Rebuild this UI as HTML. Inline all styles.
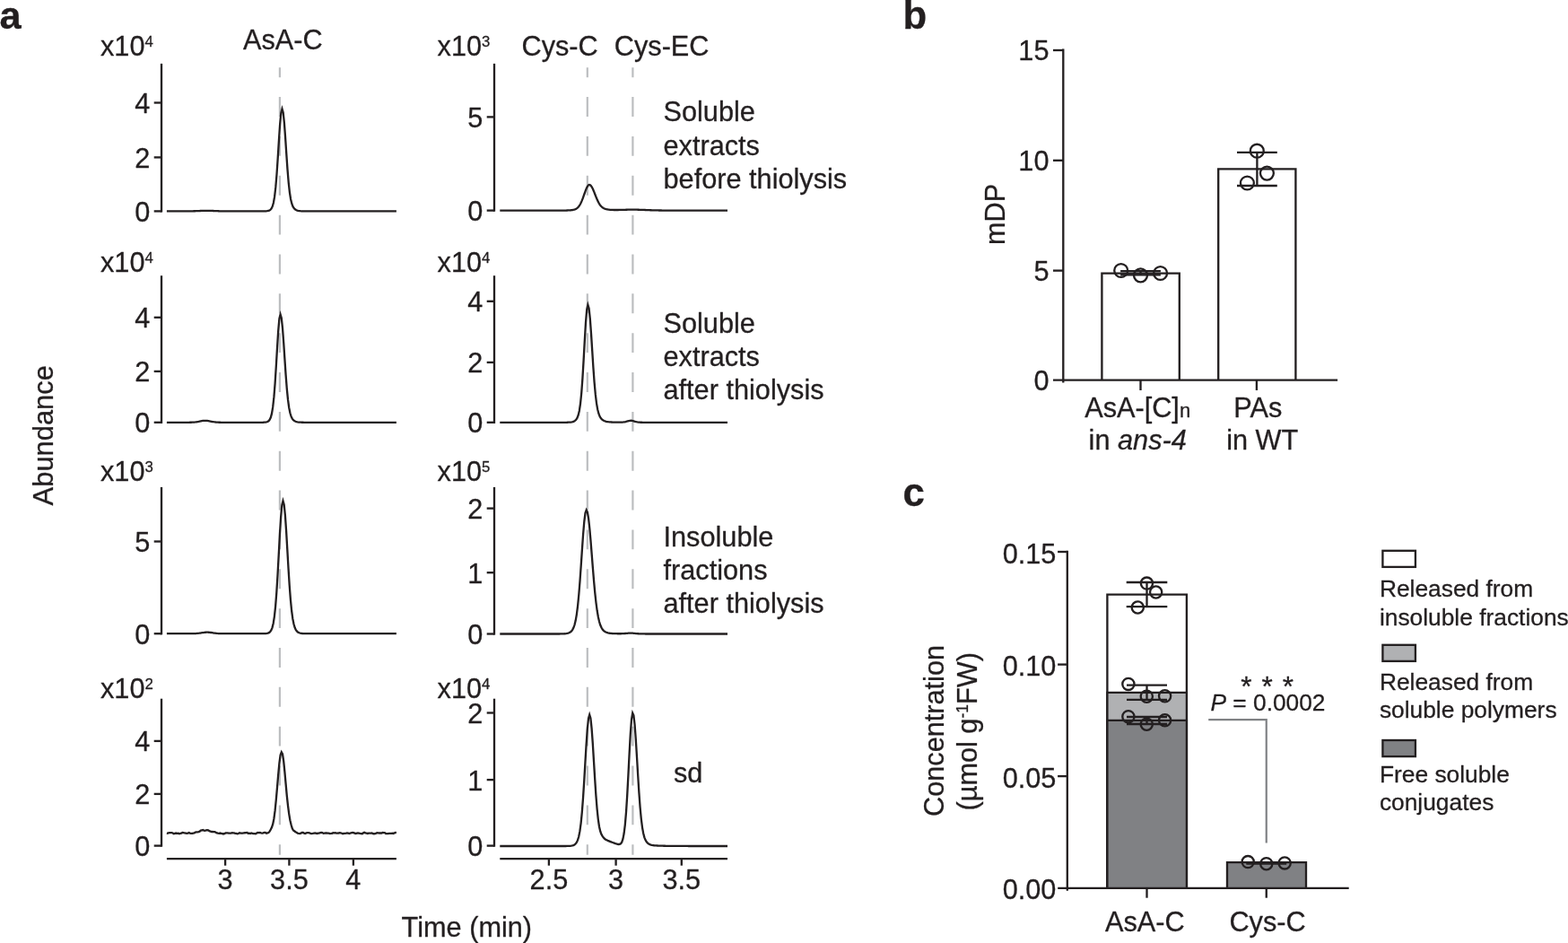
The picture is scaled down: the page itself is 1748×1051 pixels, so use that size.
<!DOCTYPE html>
<html lang="en">
<head>
<meta charset="utf-8">
<title>Figure</title>
<style>
html,body{margin:0;padding:0;background:#fff;}
body{width:1748px;height:1051px;overflow:hidden;}
svg{display:block;}
svg text{font-family:"Liberation Sans",sans-serif;fill:#231f20;stroke:#231f20;stroke-width:0.3px;stroke-linejoin:round;}
</style>
</head>
<body>
<svg width="1748" height="1051" viewBox="0 0 1748 1051" role="img" aria-label="Figure with panels a, b and c">
<rect width="1748" height="1051" fill="#fff"/>
<text x="-0.60" y="32.00" font-size="43.4" font-weight="bold">a</text>
<line x1="311.9" y1="75.3" x2="311.9" y2="952.7" stroke="#bcbec0" stroke-width="2.2" stroke-dasharray="21.9 21.95" stroke-dashoffset="11.05"/>
<line x1="654.8" y1="75.3" x2="654.8" y2="952.7" stroke="#bcbec0" stroke-width="2.2" stroke-dasharray="21.9 21.95" stroke-dashoffset="11.05"/>
<line x1="705.4" y1="75.3" x2="705.4" y2="952.7" stroke="#bcbec0" stroke-width="2.2" stroke-dasharray="21.9 21.95" stroke-dashoffset="11.05"/>
<line x1="180.00" y1="70.90" x2="180.00" y2="236.56" stroke="#231f20" stroke-width="2.33"/>
<line x1="171.70" y1="114.50" x2="180.00" y2="114.50" stroke="#231f20" stroke-width="2.33"/>
<text x="167.40" y="126.00" font-size="30.7" text-anchor="end">4</text>
<line x1="171.70" y1="175.40" x2="180.00" y2="175.40" stroke="#231f20" stroke-width="2.33"/>
<text x="167.40" y="186.90" font-size="30.7" text-anchor="end">2</text>
<line x1="171.70" y1="235.40" x2="180.00" y2="235.40" stroke="#231f20" stroke-width="2.33"/>
<text x="167.40" y="246.90" font-size="30.7" text-anchor="end">0</text>
<text x="112.00" y="62.00" font-size="30.7">x10<tspan font-size="16.8" dy="-10.4">4</tspan></text>
<line x1="180.00" y1="307.20" x2="180.00" y2="471.97" stroke="#231f20" stroke-width="2.33"/>
<line x1="171.70" y1="353.80" x2="180.00" y2="353.80" stroke="#231f20" stroke-width="2.33"/>
<text x="167.40" y="365.30" font-size="30.7" text-anchor="end">4</text>
<line x1="171.70" y1="413.90" x2="180.00" y2="413.90" stroke="#231f20" stroke-width="2.33"/>
<text x="167.40" y="425.40" font-size="30.7" text-anchor="end">2</text>
<line x1="171.70" y1="470.80" x2="180.00" y2="470.80" stroke="#231f20" stroke-width="2.33"/>
<text x="167.40" y="482.30" font-size="30.7" text-anchor="end">0</text>
<text x="112.00" y="303.00" font-size="30.7">x10<tspan font-size="16.8" dy="-10.4">4</tspan></text>
<line x1="180.00" y1="542.90" x2="180.00" y2="707.37" stroke="#231f20" stroke-width="2.33"/>
<line x1="171.70" y1="603.50" x2="180.00" y2="603.50" stroke="#231f20" stroke-width="2.33"/>
<text x="167.40" y="615.00" font-size="30.7" text-anchor="end">5</text>
<line x1="171.70" y1="706.20" x2="180.00" y2="706.20" stroke="#231f20" stroke-width="2.33"/>
<text x="167.40" y="717.70" font-size="30.7" text-anchor="end">0</text>
<text x="112.00" y="536.00" font-size="30.7">x10<tspan font-size="16.8" dy="-10.4">3</tspan></text>
<line x1="180.00" y1="778.70" x2="180.00" y2="943.76" stroke="#231f20" stroke-width="2.33"/>
<line x1="171.70" y1="825.90" x2="180.00" y2="825.90" stroke="#231f20" stroke-width="2.33"/>
<text x="167.40" y="837.40" font-size="30.7" text-anchor="end">4</text>
<line x1="171.70" y1="884.90" x2="180.00" y2="884.90" stroke="#231f20" stroke-width="2.33"/>
<text x="167.40" y="896.40" font-size="30.7" text-anchor="end">2</text>
<line x1="171.70" y1="942.60" x2="180.00" y2="942.60" stroke="#231f20" stroke-width="2.33"/>
<text x="167.40" y="954.10" font-size="30.7" text-anchor="end">0</text>
<text x="112.00" y="778.00" font-size="30.7">x10<tspan font-size="16.8" dy="-10.4">2</tspan></text>
<line x1="551.00" y1="70.90" x2="551.00" y2="235.76" stroke="#231f20" stroke-width="2.33"/>
<line x1="542.70" y1="130.40" x2="551.00" y2="130.40" stroke="#231f20" stroke-width="2.33"/>
<text x="538.40" y="141.90" font-size="30.7" text-anchor="end">5</text>
<line x1="542.70" y1="234.60" x2="551.00" y2="234.60" stroke="#231f20" stroke-width="2.33"/>
<text x="538.40" y="246.10" font-size="30.7" text-anchor="end">0</text>
<text x="487.60" y="62.00" font-size="30.7">x10<tspan font-size="16.8" dy="-10.4">3</tspan></text>
<line x1="551.00" y1="307.20" x2="551.00" y2="471.97" stroke="#231f20" stroke-width="2.33"/>
<line x1="542.70" y1="335.80" x2="551.00" y2="335.80" stroke="#231f20" stroke-width="2.33"/>
<text x="538.40" y="347.30" font-size="30.7" text-anchor="end">4</text>
<line x1="542.70" y1="403.90" x2="551.00" y2="403.90" stroke="#231f20" stroke-width="2.33"/>
<text x="538.40" y="415.40" font-size="30.7" text-anchor="end">2</text>
<line x1="542.70" y1="470.80" x2="551.00" y2="470.80" stroke="#231f20" stroke-width="2.33"/>
<text x="538.40" y="482.30" font-size="30.7" text-anchor="end">0</text>
<text x="487.60" y="303.00" font-size="30.7">x10<tspan font-size="16.8" dy="-10.4">4</tspan></text>
<line x1="551.00" y1="542.90" x2="551.00" y2="707.66" stroke="#231f20" stroke-width="2.33"/>
<line x1="542.70" y1="566.60" x2="551.00" y2="566.60" stroke="#231f20" stroke-width="2.33"/>
<text x="538.40" y="578.10" font-size="30.7" text-anchor="end">2</text>
<line x1="542.70" y1="638.20" x2="551.00" y2="638.20" stroke="#231f20" stroke-width="2.33"/>
<text x="538.40" y="649.70" font-size="30.7" text-anchor="end">1</text>
<line x1="542.70" y1="706.50" x2="551.00" y2="706.50" stroke="#231f20" stroke-width="2.33"/>
<text x="538.40" y="718.00" font-size="30.7" text-anchor="end">0</text>
<text x="487.60" y="536.00" font-size="30.7">x10<tspan font-size="16.8" dy="-10.4">5</tspan></text>
<line x1="551.00" y1="778.70" x2="551.00" y2="943.76" stroke="#231f20" stroke-width="2.33"/>
<line x1="542.70" y1="794.50" x2="551.00" y2="794.50" stroke="#231f20" stroke-width="2.33"/>
<text x="538.40" y="806.00" font-size="30.7" text-anchor="end">2</text>
<line x1="542.70" y1="869.10" x2="551.00" y2="869.10" stroke="#231f20" stroke-width="2.33"/>
<text x="538.40" y="880.60" font-size="30.7" text-anchor="end">1</text>
<line x1="542.70" y1="942.60" x2="551.00" y2="942.60" stroke="#231f20" stroke-width="2.33"/>
<text x="538.40" y="954.10" font-size="30.7" text-anchor="end">0</text>
<text x="487.60" y="778.00" font-size="30.7">x10<tspan font-size="16.8" dy="-10.4">4</tspan></text>
<line x1="185.90" y1="957.10" x2="441.90" y2="957.10" stroke="#231f20" stroke-width="2.33"/>
<line x1="251.10" y1="957.10" x2="251.10" y2="964.70" stroke="#231f20" stroke-width="2.33"/>
<text x="251.10" y="991.00" font-size="30.7" text-anchor="middle">3</text>
<line x1="322.40" y1="957.10" x2="322.40" y2="964.70" stroke="#231f20" stroke-width="2.33"/>
<text x="322.40" y="991.00" font-size="30.7" text-anchor="middle">3.5</text>
<line x1="393.90" y1="957.10" x2="393.90" y2="964.70" stroke="#231f20" stroke-width="2.33"/>
<text x="393.90" y="991.00" font-size="30.7" text-anchor="middle">4</text>
<line x1="557.30" y1="957.10" x2="811.00" y2="957.10" stroke="#231f20" stroke-width="2.33"/>
<line x1="611.90" y1="957.10" x2="611.90" y2="964.70" stroke="#231f20" stroke-width="2.33"/>
<text x="611.90" y="991.00" font-size="30.7" text-anchor="middle">2.5</text>
<line x1="686.60" y1="957.10" x2="686.60" y2="964.70" stroke="#231f20" stroke-width="2.33"/>
<text x="686.60" y="991.00" font-size="30.7" text-anchor="middle">3</text>
<line x1="759.80" y1="957.10" x2="759.80" y2="964.70" stroke="#231f20" stroke-width="2.33"/>
<text x="759.80" y="991.00" font-size="30.7" text-anchor="middle">3.5</text>
<text x="447.60" y="1044.00" font-size="30.7">Time (min)</text>
<text transform="translate(58.6,563.4) rotate(-90)" font-size="30.9">Abundance</text>
<text x="271.00" y="55.00" font-size="30.7">AsA-C</text>
<text x="581.50" y="62.00" font-size="30.7">Cys-C</text>
<text x="684.80" y="62.00" font-size="30.7">Cys-EC</text>
<text x="739.50" y="135.00" font-size="30.7">Soluble</text>
<text x="739.50" y="173.00" font-size="30.7">extracts</text>
<text x="739.50" y="210.00" font-size="30.7">before thiolysis</text>
<text x="739.50" y="371.00" font-size="30.7">Soluble</text>
<text x="739.50" y="408.00" font-size="30.7">extracts</text>
<text x="739.50" y="445.00" font-size="30.7">after thiolysis</text>
<text x="739.50" y="609.00" font-size="30.7">Insoluble</text>
<text x="739.50" y="646.00" font-size="30.7">fractions</text>
<text x="739.50" y="683.00" font-size="30.7">after thiolysis</text>
<text x="751.00" y="872.00" font-size="30.7">sd</text>
<path d="M185.90,235.40 L186.10,235.40 L187.30,235.40 L188.50,235.40 L189.70,235.40 L190.90,235.40 L192.10,235.40 L193.30,235.40 L194.50,235.40 L195.70,235.40 L196.90,235.40 L198.10,235.40 L199.30,235.40 L200.50,235.40 L201.70,235.40 L202.90,235.40 L204.10,235.40 L205.30,235.39 L206.50,235.39 L207.70,235.39 L208.90,235.38 L210.10,235.37 L211.30,235.36 L212.50,235.35 L213.70,235.32 L214.90,235.30 L216.10,235.27 L217.30,235.23 L218.50,235.19 L219.70,235.14 L220.90,235.09 L222.10,235.03 L223.30,234.98 L224.50,234.93 L225.70,234.88 L226.90,234.84 L228.10,234.82 L229.30,234.80 L230.50,234.80 L231.70,234.81 L232.90,234.84 L234.10,234.87 L235.30,234.92 L236.50,234.97 L237.70,235.02 L238.90,235.08 L240.10,235.13 L241.30,235.18 L242.50,235.22 L243.70,235.26 L244.90,235.29 L246.10,235.32 L247.30,235.34 L248.50,235.36 L249.70,235.37 L250.90,235.38 L252.10,235.39 L253.30,235.39 L254.50,235.39 L255.70,235.40 L256.90,235.40 L258.10,235.40 L259.30,235.40 L260.50,235.40 L261.70,235.40 L262.90,235.40 L264.10,235.40 L265.30,235.40 L266.50,235.40 L267.70,235.40 L268.90,235.40 L270.10,235.40 L271.30,235.40 L272.50,235.40 L273.70,235.40 L274.90,235.40 L276.10,235.40 L277.30,235.40 L278.50,235.40 L279.70,235.40 L280.90,235.40 L282.10,235.40 L283.30,235.40 L284.50,235.40 L285.70,235.40 L286.90,235.40 L288.10,235.40 L289.30,235.40 L290.50,235.40 L291.70,235.40 L292.90,235.39 L294.10,235.38 L295.30,235.35 L296.50,235.30 L297.70,235.20 L298.90,235.00 L300.10,234.62 L301.30,233.92 L302.50,232.60 L303.70,230.20 L304.90,226.02 L306.10,219.15 L307.30,208.72 L308.50,194.27 L309.70,176.34 L310.90,156.79 L312.10,138.78 L313.30,125.96 L314.50,121.30 L315.70,125.44 L316.90,136.94 L318.10,153.35 L319.30,171.58 L320.50,188.85 L321.70,203.32 L322.90,214.29 L324.10,221.97 L325.30,227.00 L326.50,230.16 L327.70,232.10 L328.90,233.31 L330.10,234.07 L331.30,234.56 L332.50,234.87 L333.70,235.08 L334.90,235.21 L336.10,235.29 L337.30,235.34 L338.50,235.37 L339.70,235.38 L340.90,235.39 L342.10,235.40 L343.30,235.40 L344.50,235.40 L345.70,235.40 L346.90,235.40 L348.10,235.40 L349.30,235.40 L350.50,235.40 L351.70,235.40 L352.90,235.40 L354.10,235.40 L355.30,235.40 L356.50,235.40 L357.70,235.40 L358.90,235.40 L360.10,235.40 L361.30,235.40 L362.50,235.40 L363.70,235.40 L364.90,235.40 L366.10,235.40 L367.30,235.40 L368.50,235.40 L369.70,235.40 L370.90,235.40 L372.10,235.40 L373.30,235.40 L374.50,235.40 L375.70,235.40 L376.90,235.40 L378.10,235.40 L379.30,235.40 L380.50,235.40 L381.70,235.40 L382.90,235.40 L384.10,235.40 L385.30,235.40 L386.50,235.40 L387.70,235.40 L388.90,235.40 L390.10,235.40 L391.30,235.40 L392.50,235.40 L393.70,235.40 L394.90,235.40 L396.10,235.40 L397.30,235.40 L398.50,235.40 L399.70,235.40 L400.90,235.40 L402.10,235.40 L403.30,235.40 L404.50,235.40 L405.70,235.40 L406.90,235.40 L408.10,235.40 L409.30,235.40 L410.50,235.40 L411.70,235.40 L412.90,235.40 L414.10,235.40 L415.30,235.40 L416.50,235.40 L417.70,235.40 L418.90,235.40 L420.10,235.40 L421.30,235.40 L422.50,235.40 L423.70,235.40 L424.90,235.40 L426.10,235.40 L427.30,235.40 L428.50,235.40 L429.70,235.40 L430.90,235.40 L432.10,235.40 L433.30,235.40 L434.50,235.40 L435.70,235.40 L436.90,235.40 L438.10,235.40 L439.30,235.40 L440.50,235.40 L441.70,235.40 L441.90,235.40" fill="none" stroke="#231f20" stroke-width="2.3" stroke-linejoin="miter" stroke-miterlimit="10" stroke-linecap="butt"/>
<path d="M185.90,470.80 L186.60,470.80 L187.80,470.80 L189.00,470.80 L190.20,470.80 L191.40,470.80 L192.60,470.80 L193.80,470.80 L195.00,470.80 L196.20,470.80 L197.40,470.80 L198.60,470.80 L199.80,470.80 L201.00,470.80 L202.20,470.80 L203.40,470.80 L204.60,470.80 L205.80,470.80 L207.00,470.80 L208.20,470.79 L209.40,470.79 L210.60,470.78 L211.80,470.76 L213.00,470.74 L214.20,470.70 L215.40,470.63 L216.60,470.55 L217.80,470.43 L219.00,470.27 L220.20,470.08 L221.40,469.87 L222.60,469.63 L223.80,469.39 L225.00,469.16 L226.20,468.98 L227.40,468.85 L228.60,468.80 L229.80,468.83 L231.00,468.93 L232.20,469.10 L233.40,469.31 L234.60,469.55 L235.80,469.79 L237.00,470.01 L238.20,470.21 L239.40,470.38 L240.60,470.51 L241.80,470.61 L243.00,470.68 L244.20,470.73 L245.40,470.76 L246.60,470.78 L247.80,470.79 L249.00,470.79 L250.20,470.80 L251.40,470.80 L252.60,470.80 L253.80,470.80 L255.00,470.80 L256.20,470.80 L257.40,470.80 L258.60,470.80 L259.80,470.80 L261.00,470.80 L262.20,470.80 L263.40,470.80 L264.60,470.80 L265.80,470.80 L267.00,470.80 L268.20,470.80 L269.40,470.80 L270.60,470.80 L271.80,470.80 L273.00,470.80 L274.20,470.80 L275.40,470.80 L276.60,470.80 L277.80,470.80 L279.00,470.80 L280.20,470.80 L281.40,470.80 L282.60,470.80 L283.80,470.80 L285.00,470.80 L286.20,470.80 L287.40,470.80 L288.60,470.80 L289.80,470.80 L291.00,470.79 L292.20,470.78 L293.40,470.75 L294.60,470.69 L295.80,470.58 L297.00,470.38 L298.20,469.98 L299.40,469.24 L300.60,467.85 L301.80,465.31 L303.00,460.90 L304.20,453.65 L305.40,442.64 L306.60,427.40 L307.80,408.48 L309.00,387.85 L310.20,368.84 L311.40,355.31 L312.60,350.40 L313.80,354.40 L315.00,365.58 L316.20,381.75 L317.40,400.08 L318.60,417.90 L319.80,433.33 L321.00,445.47 L322.20,454.28 L323.40,460.27 L324.60,464.16 L325.80,466.61 L327.00,468.14 L328.20,469.10 L329.40,469.72 L330.60,470.11 L331.80,470.37 L333.00,470.54 L334.20,470.64 L335.40,470.71 L336.60,470.75 L337.80,470.77 L339.00,470.79 L340.20,470.79 L341.40,470.80 L342.60,470.80 L343.80,470.80 L345.00,470.80 L346.20,470.80 L347.40,470.80 L348.60,470.80 L349.80,470.80 L351.00,470.80 L352.20,470.80 L353.40,470.80 L354.60,470.80 L355.80,470.80 L357.00,470.80 L358.20,470.80 L359.40,470.80 L360.60,470.80 L361.80,470.80 L363.00,470.80 L364.20,470.80 L365.40,470.80 L366.60,470.80 L367.80,470.80 L369.00,470.80 L370.20,470.80 L371.40,470.80 L372.60,470.80 L373.80,470.80 L375.00,470.80 L376.20,470.80 L377.40,470.80 L378.60,470.80 L379.80,470.80 L381.00,470.80 L382.20,470.80 L383.40,470.80 L384.60,470.80 L385.80,470.80 L387.00,470.80 L388.20,470.80 L389.40,470.80 L390.60,470.80 L391.80,470.80 L393.00,470.80 L394.20,470.80 L395.40,470.80 L396.60,470.80 L397.80,470.80 L399.00,470.80 L400.20,470.80 L401.40,470.80 L402.60,470.80 L403.80,470.80 L405.00,470.80 L406.20,470.80 L407.40,470.80 L408.60,470.80 L409.80,470.80 L411.00,470.80 L412.20,470.80 L413.40,470.80 L414.60,470.80 L415.80,470.80 L417.00,470.80 L418.20,470.80 L419.40,470.80 L420.60,470.80 L421.80,470.80 L423.00,470.80 L424.20,470.80 L425.40,470.80 L426.60,470.80 L427.80,470.80 L429.00,470.80 L430.20,470.80 L431.40,470.80 L432.60,470.80 L433.80,470.80 L435.00,470.80 L436.20,470.80 L437.40,470.80 L438.60,470.80 L439.80,470.80 L441.00,470.80 L441.90,470.80" fill="none" stroke="#231f20" stroke-width="2.3" stroke-linejoin="miter" stroke-miterlimit="10" stroke-linecap="butt"/>
<path d="M185.90,706.20 L187.10,706.20 L188.30,706.20 L189.50,706.20 L190.70,706.20 L191.90,706.20 L193.10,706.20 L194.30,706.20 L195.50,706.20 L196.70,706.20 L197.90,706.20 L199.10,706.20 L200.30,706.20 L201.50,706.20 L202.70,706.20 L203.90,706.20 L205.10,706.20 L206.30,706.20 L207.50,706.20 L208.70,706.20 L209.90,706.20 L211.10,706.19 L212.30,706.19 L213.50,706.18 L214.70,706.16 L215.90,706.14 L217.10,706.10 L218.30,706.04 L219.50,705.96 L220.70,705.86 L221.90,705.73 L223.10,705.57 L224.30,705.40 L225.50,705.21 L226.70,705.04 L227.90,704.89 L229.10,704.77 L230.30,704.71 L231.50,704.71 L232.70,704.76 L233.90,704.87 L235.10,705.01 L236.30,705.18 L237.50,705.37 L238.70,705.54 L239.90,705.70 L241.10,705.84 L242.30,705.95 L243.50,706.03 L244.70,706.09 L245.90,706.13 L247.10,706.16 L248.30,706.18 L249.50,706.19 L250.70,706.19 L251.90,706.20 L253.10,706.20 L254.30,706.20 L255.50,706.20 L256.70,706.20 L257.90,706.20 L259.10,706.20 L260.30,706.20 L261.50,706.20 L262.70,706.20 L263.90,706.20 L265.10,706.20 L266.30,706.20 L267.50,706.20 L268.70,706.20 L269.90,706.20 L271.10,706.20 L272.30,706.20 L273.50,706.20 L274.70,706.20 L275.90,706.20 L277.10,706.20 L278.30,706.20 L279.50,706.20 L280.70,706.20 L281.90,706.20 L283.10,706.20 L284.30,706.20 L285.50,706.20 L286.70,706.20 L287.90,706.20 L289.10,706.20 L290.30,706.20 L291.50,706.19 L292.70,706.18 L293.90,706.16 L295.10,706.13 L296.30,706.05 L297.50,705.91 L298.70,705.64 L299.90,705.14 L301.10,704.20 L302.30,702.52 L303.50,699.60 L304.70,694.74 L305.90,687.10 L307.10,675.84 L308.30,660.42 L309.50,641.02 L310.70,618.86 L311.90,596.31 L313.10,576.58 L314.30,563.03 L315.50,558.20 L316.70,562.39 L317.90,574.25 L319.10,591.79 L320.30,612.35 L321.50,633.23 L322.70,652.28 L323.90,668.19 L325.10,680.51 L326.30,689.44 L327.50,695.57 L328.70,699.58 L329.90,702.13 L331.10,703.71 L332.30,704.68 L333.50,705.28 L334.70,705.64 L335.90,705.87 L337.10,706.00 L338.30,706.09 L339.50,706.14 L340.70,706.17 L341.90,706.18 L343.10,706.19 L344.30,706.20 L345.50,706.20 L346.70,706.20 L347.90,706.20 L349.10,706.20 L350.30,706.20 L351.50,706.20 L352.70,706.20 L353.90,706.20 L355.10,706.20 L356.30,706.20 L357.50,706.20 L358.70,706.20 L359.90,706.20 L361.10,706.20 L362.30,706.20 L363.50,706.20 L364.70,706.20 L365.90,706.20 L367.10,706.20 L368.30,706.20 L369.50,706.20 L370.70,706.20 L371.90,706.20 L373.10,706.20 L374.30,706.20 L375.50,706.20 L376.70,706.20 L377.90,706.20 L379.10,706.20 L380.30,706.20 L381.50,706.20 L382.70,706.20 L383.90,706.20 L385.10,706.20 L386.30,706.20 L387.50,706.20 L388.70,706.20 L389.90,706.20 L391.10,706.20 L392.30,706.20 L393.50,706.20 L394.70,706.20 L395.90,706.20 L397.10,706.20 L398.30,706.20 L399.50,706.20 L400.70,706.20 L401.90,706.20 L403.10,706.20 L404.30,706.20 L405.50,706.20 L406.70,706.20 L407.90,706.20 L409.10,706.20 L410.30,706.20 L411.50,706.20 L412.70,706.20 L413.90,706.20 L415.10,706.20 L416.30,706.20 L417.50,706.20 L418.70,706.20 L419.90,706.20 L421.10,706.20 L422.30,706.20 L423.50,706.20 L424.70,706.20 L425.90,706.20 L427.10,706.20 L428.30,706.20 L429.50,706.20 L430.70,706.20 L431.90,706.20 L433.10,706.20 L434.30,706.20 L435.50,706.20 L436.70,706.20 L437.90,706.20 L439.10,706.20 L440.30,706.20 L441.50,706.20 L441.90,706.20" fill="none" stroke="#231f20" stroke-width="2.3" stroke-linejoin="miter" stroke-miterlimit="10" stroke-linecap="butt"/>
<path d="M185.90,928.51 L186.60,928.73 L187.80,928.43 L189.00,928.22 L190.20,928.09 L191.40,928.04 L192.60,928.49 L193.80,929.28 L195.00,928.84 L196.20,928.52 L197.40,928.85 L198.60,928.71 L199.80,929.18 L201.00,928.93 L202.20,928.64 L203.40,927.90 L204.60,928.06 L205.80,928.48 L207.00,928.65 L208.20,928.90 L209.40,928.68 L210.60,928.11 L211.80,928.61 L213.00,928.85 L214.20,928.91 L215.40,928.55 L216.60,928.46 L217.80,927.61 L219.00,927.42 L220.20,927.41 L221.40,927.10 L222.60,926.68 L223.80,925.62 L225.00,925.33 L226.20,925.05 L227.40,925.61 L228.60,925.79 L229.80,925.26 L231.00,925.13 L232.20,925.28 L233.40,926.22 L234.60,926.57 L235.80,927.12 L237.00,926.98 L238.20,927.03 L239.40,927.14 L240.60,927.65 L241.80,928.39 L243.00,928.70 L244.20,928.83 L245.40,928.54 L246.60,928.77 L247.80,929.08 L249.00,929.45 L250.20,929.18 L251.40,928.44 L252.60,928.43 L253.80,928.42 L255.00,928.63 L256.20,928.67 L257.40,928.71 L258.60,928.14 L259.80,928.38 L261.00,928.47 L262.20,928.77 L263.40,928.95 L264.60,929.32 L265.80,929.02 L267.00,928.21 L268.20,928.69 L269.40,928.69 L270.60,928.57 L271.80,928.36 L273.00,928.25 L274.20,928.20 L275.40,928.00 L276.60,928.81 L277.80,928.70 L279.00,928.97 L280.20,928.49 L281.40,928.80 L282.60,929.13 L283.80,929.10 L285.00,929.32 L286.20,928.47 L287.40,927.89 L288.60,928.11 L289.80,928.03 L291.00,928.42 L292.20,928.54 L293.40,928.39 L294.60,927.90 L295.80,927.91 L297.00,928.64 L298.20,928.28 L299.40,928.01 L300.60,926.66 L301.80,924.52 L303.00,922.11 L304.20,918.40 L305.40,912.45 L306.60,903.41 L307.80,891.44 L309.00,877.55 L310.20,863.45 L311.40,850.54 L312.60,841.54 L313.80,838.27 L315.00,840.48 L316.20,848.28 L317.40,860.39 L318.60,873.63 L319.80,886.78 L321.00,897.79 L322.20,907.12 L323.40,914.28 L324.60,919.24 L325.80,923.29 L327.00,925.50 L328.20,926.26 L329.40,927.24 L330.60,927.78 L331.80,928.60 L333.00,928.88 L334.20,929.08 L335.40,928.72 L336.60,927.96 L337.80,927.99 L339.00,928.61 L340.20,928.94 L341.40,928.35 L342.60,928.16 L343.80,928.14 L345.00,928.27 L346.20,928.79 L347.40,929.04 L348.60,928.94 L349.80,928.74 L351.00,928.40 L352.20,928.59 L353.40,929.06 L354.60,928.58 L355.80,928.53 L357.00,928.20 L358.20,927.86 L359.40,928.12 L360.60,928.88 L361.80,928.69 L363.00,928.49 L364.20,928.44 L365.40,928.69 L366.60,928.69 L367.80,929.09 L369.00,928.97 L370.20,928.82 L371.40,928.17 L372.60,928.38 L373.80,928.23 L375.00,928.54 L376.20,928.64 L377.40,928.50 L378.60,928.14 L379.80,928.28 L381.00,928.70 L382.20,929.23 L383.40,928.89 L384.60,928.88 L385.80,928.66 L387.00,928.36 L388.20,928.65 L389.40,928.97 L390.60,928.54 L391.80,928.24 L393.00,927.89 L394.20,928.09 L395.40,928.64 L396.60,929.13 L397.80,928.66 L399.00,928.47 L400.20,928.53 L401.40,928.83 L402.60,929.07 L403.80,929.26 L405.00,928.35 L406.20,927.84 L407.40,928.35 L408.60,928.59 L409.80,928.93 L411.00,928.58 L412.20,928.65 L413.40,928.52 L414.60,928.34 L415.80,929.11 L417.00,929.44 L418.20,929.19 L419.40,928.69 L420.60,928.26 L421.80,928.34 L423.00,928.50 L424.20,928.46 L425.40,928.50 L426.60,927.96 L427.80,928.20 L429.00,928.08 L430.20,929.07 L431.40,929.17 L432.60,929.15 L433.80,928.86 L435.00,928.81 L436.20,928.85 L437.40,928.75 L438.60,929.08 L439.80,928.30 L441.00,927.96 L441.90,928.09" fill="none" stroke="#231f20" stroke-width="2.3" stroke-linejoin="miter" stroke-miterlimit="10" stroke-linecap="butt"/>
<path d="M557.30,234.60 L557.40,234.60 L558.00,234.60 L558.60,234.60 L559.20,234.60 L559.80,234.60 L560.40,234.60 L561.00,234.60 L561.60,234.60 L562.20,234.60 L562.80,234.60 L563.40,234.60 L564.00,234.60 L564.60,234.60 L565.20,234.60 L565.80,234.60 L566.40,234.60 L567.00,234.60 L567.60,234.60 L568.20,234.60 L568.80,234.60 L569.40,234.60 L570.00,234.60 L570.60,234.60 L571.20,234.60 L571.80,234.60 L572.40,234.60 L573.00,234.60 L573.60,234.60 L574.20,234.60 L574.80,234.60 L575.40,234.60 L576.00,234.60 L576.60,234.60 L577.20,234.60 L577.80,234.60 L578.40,234.60 L579.00,234.60 L579.60,234.60 L580.20,234.60 L580.80,234.60 L581.40,234.60 L582.00,234.60 L582.60,234.60 L583.20,234.60 L583.80,234.60 L584.40,234.60 L585.00,234.60 L585.60,234.60 L586.20,234.60 L586.80,234.60 L587.40,234.60 L588.00,234.60 L588.60,234.60 L589.20,234.60 L589.80,234.60 L590.40,234.60 L591.00,234.60 L591.60,234.60 L592.20,234.60 L592.80,234.60 L593.40,234.60 L594.00,234.60 L594.60,234.60 L595.20,234.60 L595.80,234.60 L596.40,234.60 L597.00,234.60 L597.60,234.60 L598.20,234.60 L598.80,234.60 L599.40,234.60 L600.00,234.60 L600.60,234.60 L601.20,234.60 L601.80,234.60 L602.40,234.60 L603.00,234.60 L603.60,234.60 L604.20,234.60 L604.80,234.60 L605.40,234.60 L606.00,234.60 L606.60,234.60 L607.20,234.60 L607.80,234.60 L608.40,234.60 L609.00,234.60 L609.60,234.60 L610.20,234.60 L610.80,234.60 L611.40,234.60 L612.00,234.60 L612.60,234.60 L613.20,234.60 L613.80,234.60 L614.40,234.60 L615.00,234.60 L615.60,234.60 L616.20,234.60 L616.80,234.60 L617.40,234.60 L618.00,234.60 L618.60,234.60 L619.20,234.60 L619.80,234.60 L620.40,234.60 L621.00,234.60 L621.60,234.60 L622.20,234.60 L622.80,234.60 L623.40,234.60 L624.00,234.59 L624.60,234.59 L625.20,234.59 L625.80,234.59 L626.40,234.59 L627.00,234.58 L627.60,234.58 L628.20,234.57 L628.80,234.57 L629.40,234.56 L630.00,234.55 L630.60,234.54 L631.20,234.53 L631.80,234.51 L632.40,234.50 L633.00,234.47 L633.60,234.45 L634.20,234.42 L634.80,234.39 L635.40,234.34 L636.00,234.30 L636.60,234.24 L637.20,234.17 L637.80,234.09 L638.40,234.00 L639.00,233.88 L639.60,233.74 L640.20,233.58 L640.80,233.38 L641.40,233.14 L642.00,232.86 L642.60,232.52 L643.20,232.11 L643.80,231.63 L644.40,231.06 L645.00,230.39 L645.60,229.62 L646.20,228.73 L646.80,227.71 L647.40,226.58 L648.00,225.32 L648.60,223.93 L649.20,222.44 L649.80,220.85 L650.40,219.18 L651.00,217.47 L651.60,215.75 L652.20,214.04 L652.80,212.40 L653.40,210.87 L654.00,209.48 L654.60,208.28 L655.20,207.31 L655.80,206.59 L656.40,206.15 L657.00,206.00 L657.60,206.12 L658.20,206.47 L658.80,207.05 L659.40,207.84 L660.00,208.83 L660.60,209.99 L661.20,211.29 L661.80,212.70 L662.40,214.18 L663.00,215.72 L663.60,217.27 L664.20,218.80 L664.80,220.30 L665.40,221.74 L666.00,223.10 L666.60,224.38 L667.20,225.55 L667.80,226.63 L668.40,227.60 L669.00,228.47 L669.60,229.24 L670.20,229.92 L670.80,230.51 L671.40,231.02 L672.00,231.47 L672.60,231.85 L673.20,232.17 L673.80,232.45 L674.40,232.69 L675.00,232.90 L675.60,233.07 L676.20,233.22 L676.80,233.35 L677.40,233.46 L678.00,233.56 L678.60,233.64 L679.20,233.71 L679.80,233.77 L680.40,233.82 L681.00,233.86 L681.60,233.89 L682.20,233.92 L682.80,233.95 L683.40,233.97 L684.00,233.98 L684.60,234.00 L685.20,234.00 L685.80,234.01 L686.40,234.01 L687.00,234.01 L687.60,234.00 L688.20,234.00 L688.80,233.99 L689.40,233.98 L690.00,233.97 L690.60,233.95 L691.20,233.94 L691.80,233.93 L692.40,233.91 L693.00,233.89 L693.60,233.88 L694.20,233.86 L694.80,233.85 L695.40,233.83 L696.00,233.81 L696.60,233.80 L697.20,233.78 L697.80,233.76 L698.40,233.75 L699.00,233.74 L699.60,233.72 L700.20,233.71 L700.80,233.70 L701.40,233.69 L702.00,233.68 L702.60,233.67 L703.20,233.67 L703.80,233.66 L704.40,233.66 L705.00,233.66 L705.60,233.66 L706.20,233.66 L706.80,233.67 L707.40,233.67 L708.00,233.68 L708.60,233.68 L709.20,233.69 L709.80,233.70 L710.40,233.72 L711.00,233.73 L711.60,233.75 L712.20,233.76 L712.80,233.78 L713.40,233.80 L714.00,233.82 L714.60,233.84 L715.20,233.86 L715.80,233.88 L716.40,233.90 L717.00,233.92 L717.60,233.95 L718.20,233.97 L718.80,233.99 L719.40,234.02 L720.00,234.04 L720.60,234.07 L721.20,234.09 L721.80,234.11 L722.40,234.14 L723.00,234.16 L723.60,234.18 L724.20,234.20 L724.80,234.23 L725.40,234.25 L726.00,234.27 L726.60,234.29 L727.20,234.31 L727.80,234.33 L728.40,234.34 L729.00,234.36 L729.60,234.38 L730.20,234.39 L730.80,234.41 L731.40,234.42 L732.00,234.44 L732.60,234.45 L733.20,234.46 L733.80,234.47 L734.40,234.48 L735.00,234.49 L735.60,234.50 L736.20,234.51 L736.80,234.52 L737.40,234.52 L738.00,234.53 L738.60,234.54 L739.20,234.54 L739.80,234.55 L740.40,234.55 L741.00,234.56 L741.60,234.56 L742.20,234.57 L742.80,234.57 L743.40,234.57 L744.00,234.58 L744.60,234.58 L745.20,234.58 L745.80,234.58 L746.40,234.58 L747.00,234.59 L747.60,234.59 L748.20,234.59 L748.80,234.59 L749.40,234.59 L750.00,234.59 L750.60,234.59 L751.20,234.59 L751.80,234.59 L752.40,234.60 L753.00,234.60 L753.60,234.60 L754.20,234.60 L754.80,234.60 L755.40,234.60 L756.00,234.60 L756.60,234.60 L757.20,234.60 L757.80,234.60 L758.40,234.60 L759.00,234.60 L759.60,234.60 L760.20,234.60 L760.80,234.60 L761.40,234.60 L762.00,234.60 L762.60,234.60 L763.20,234.60 L763.80,234.60 L764.40,234.60 L765.00,234.60 L765.60,234.60 L766.20,234.60 L766.80,234.60 L767.40,234.60 L768.00,234.60 L768.60,234.60 L769.20,234.60 L769.80,234.60 L770.40,234.60 L771.00,234.60 L771.60,234.60 L772.20,234.60 L772.80,234.60 L773.40,234.60 L774.00,234.60 L774.60,234.60 L775.20,234.60 L775.80,234.60 L776.40,234.60 L777.00,234.60 L777.60,234.60 L778.20,234.60 L778.80,234.60 L779.40,234.60 L780.00,234.60 L780.60,234.60 L781.20,234.60 L781.80,234.60 L782.40,234.60 L783.00,234.60 L783.60,234.60 L784.20,234.60 L784.80,234.60 L785.40,234.60 L786.00,234.60 L786.60,234.60 L787.20,234.60 L787.80,234.60 L788.40,234.60 L789.00,234.60 L789.60,234.60 L790.20,234.60 L790.80,234.60 L791.40,234.60 L792.00,234.60 L792.60,234.60 L793.20,234.60 L793.80,234.60 L794.40,234.60 L795.00,234.60 L795.60,234.60 L796.20,234.60 L796.80,234.60 L797.40,234.60 L798.00,234.60 L798.60,234.60 L799.20,234.60 L799.80,234.60 L800.40,234.60 L801.00,234.60 L801.60,234.60 L802.20,234.60 L802.80,234.60 L803.40,234.60 L804.00,234.60 L804.60,234.60 L805.20,234.60 L805.80,234.60 L806.40,234.60 L807.00,234.60 L807.60,234.60 L808.20,234.60 L808.80,234.60 L809.40,234.60 L810.00,234.60 L810.60,234.60 L811.00,234.60" fill="none" stroke="#231f20" stroke-width="2.3" stroke-linejoin="miter" stroke-miterlimit="10" stroke-linecap="butt"/>
<path d="M557.30,470.80 L558.20,470.80 L559.40,470.80 L560.60,470.80 L561.80,470.80 L563.00,470.80 L564.20,470.80 L565.40,470.80 L566.60,470.80 L567.80,470.80 L569.00,470.80 L570.20,470.80 L571.40,470.80 L572.60,470.80 L573.80,470.80 L575.00,470.80 L576.20,470.80 L577.40,470.80 L578.60,470.80 L579.80,470.80 L581.00,470.80 L582.20,470.80 L583.40,470.80 L584.60,470.80 L585.80,470.80 L587.00,470.80 L588.20,470.80 L589.40,470.80 L590.60,470.80 L591.80,470.80 L593.00,470.80 L594.20,470.80 L595.40,470.80 L596.60,470.80 L597.80,470.80 L599.00,470.80 L600.20,470.80 L601.40,470.80 L602.60,470.80 L603.80,470.80 L605.00,470.80 L606.20,470.80 L607.40,470.80 L608.60,470.80 L609.80,470.80 L611.00,470.80 L612.20,470.80 L613.40,470.80 L614.60,470.80 L615.80,470.80 L617.00,470.80 L618.20,470.80 L619.40,470.80 L620.60,470.80 L621.80,470.80 L623.00,470.80 L624.20,470.80 L625.40,470.80 L626.60,470.80 L627.80,470.80 L629.00,470.79 L630.20,470.79 L631.40,470.78 L632.60,470.76 L633.80,470.72 L635.00,470.66 L636.20,470.55 L637.40,470.37 L638.60,470.09 L639.80,469.64 L641.00,468.94 L642.20,467.82 L643.40,465.99 L644.60,462.95 L645.80,457.95 L647.00,450.00 L648.20,438.12 L649.40,421.82 L650.60,401.64 L651.80,379.68 L653.00,359.44 L654.20,345.03 L655.40,339.80 L656.60,343.82 L657.80,355.13 L659.00,371.68 L660.20,390.69 L661.40,409.48 L662.60,426.06 L663.80,439.40 L665.00,449.35 L666.20,456.32 L667.40,461.01 L668.60,464.08 L669.80,466.10 L671.00,467.44 L672.20,468.36 L673.40,469.01 L674.60,469.47 L675.80,469.80 L677.00,470.04 L678.20,470.20 L679.40,470.33 L680.60,470.41 L681.80,470.48 L683.00,470.53 L684.20,470.57 L685.40,470.60 L686.60,470.62 L687.80,470.64 L689.00,470.66 L690.20,470.67 L691.40,470.66 L692.60,470.64 L693.80,470.58 L695.00,470.47 L696.20,470.28 L697.40,470.02 L698.60,469.69 L699.80,469.33 L701.00,469.02 L702.20,468.81 L703.40,468.77 L704.60,468.91 L705.80,469.18 L707.00,469.53 L708.20,469.89 L709.40,470.20 L710.60,470.44 L711.80,470.60 L713.00,470.69 L714.20,470.75 L715.40,470.77 L716.60,470.78 L717.80,470.79 L719.00,470.79 L720.20,470.79 L721.40,470.79 L722.60,470.80 L723.80,470.80 L725.00,470.80 L726.20,470.80 L727.40,470.80 L728.60,470.80 L729.80,470.80 L731.00,470.80 L732.20,470.80 L733.40,470.80 L734.60,470.80 L735.80,470.80 L737.00,470.80 L738.20,470.80 L739.40,470.80 L740.60,470.80 L741.80,470.80 L743.00,470.80 L744.20,470.80 L745.40,470.80 L746.60,470.80 L747.80,470.80 L749.00,470.80 L750.20,470.80 L751.40,470.80 L752.60,470.80 L753.80,470.80 L755.00,470.80 L756.20,470.80 L757.40,470.80 L758.60,470.80 L759.80,470.80 L761.00,470.80 L762.20,470.80 L763.40,470.80 L764.60,470.80 L765.80,470.80 L767.00,470.80 L768.20,470.80 L769.40,470.80 L770.60,470.80 L771.80,470.80 L773.00,470.80 L774.20,470.80 L775.40,470.80 L776.60,470.80 L777.80,470.80 L779.00,470.80 L780.20,470.80 L781.40,470.80 L782.60,470.80 L783.80,470.80 L785.00,470.80 L786.20,470.80 L787.40,470.80 L788.60,470.80 L789.80,470.80 L791.00,470.80 L792.20,470.80 L793.40,470.80 L794.60,470.80 L795.80,470.80 L797.00,470.80 L798.20,470.80 L799.40,470.80 L800.60,470.80 L801.80,470.80 L803.00,470.80 L804.20,470.80 L805.40,470.80 L806.60,470.80 L807.80,470.80 L809.00,470.80 L810.20,470.80 L811.00,470.80" fill="none" stroke="#231f20" stroke-width="2.3" stroke-linejoin="miter" stroke-miterlimit="10" stroke-linecap="butt"/>
<path d="M557.30,706.50 L557.70,706.50 L558.90,706.50 L560.10,706.50 L561.30,706.50 L562.50,706.50 L563.70,706.50 L564.90,706.50 L566.10,706.50 L567.30,706.50 L568.50,706.50 L569.70,706.50 L570.90,706.50 L572.10,706.50 L573.30,706.50 L574.50,706.50 L575.70,706.50 L576.90,706.50 L578.10,706.50 L579.30,706.50 L580.50,706.50 L581.70,706.50 L582.90,706.50 L584.10,706.50 L585.30,706.50 L586.50,706.50 L587.70,706.50 L588.90,706.50 L590.10,706.50 L591.30,706.50 L592.50,706.50 L593.70,706.50 L594.90,706.50 L596.10,706.50 L597.30,706.50 L598.50,706.50 L599.70,706.50 L600.90,706.50 L602.10,706.50 L603.30,706.50 L604.50,706.50 L605.70,706.50 L606.90,706.50 L608.10,706.50 L609.30,706.50 L610.50,706.50 L611.70,706.50 L612.90,706.50 L614.10,706.50 L615.30,706.50 L616.50,706.50 L617.70,706.50 L618.90,706.50 L620.10,706.50 L621.30,706.49 L622.50,706.49 L623.70,706.48 L624.90,706.47 L626.10,706.45 L627.30,706.41 L628.50,706.35 L629.70,706.27 L630.90,706.14 L632.10,705.94 L633.30,705.65 L634.50,705.21 L635.70,704.56 L636.90,703.58 L638.10,702.10 L639.30,699.87 L640.50,696.52 L641.70,691.60 L642.90,684.61 L644.10,675.08 L645.30,662.76 L646.50,647.72 L647.70,630.59 L648.90,612.60 L650.10,595.49 L651.30,581.26 L652.50,571.81 L653.70,568.50 L654.90,570.93 L656.10,577.98 L657.30,588.91 L658.50,602.61 L659.70,617.79 L660.90,633.21 L662.10,647.80 L663.30,660.82 L664.50,671.86 L665.70,680.80 L666.90,687.75 L668.10,692.98 L669.30,696.81 L670.50,699.55 L671.70,701.48 L672.90,702.84 L674.10,703.80 L675.30,704.47 L676.50,704.96 L677.70,705.31 L678.90,705.57 L680.10,705.75 L681.30,705.89 L682.50,706.00 L683.70,706.08 L684.90,706.14 L686.10,706.19 L687.30,706.22 L688.50,706.25 L689.70,706.26 L690.90,706.27 L692.10,706.25 L693.30,706.22 L694.50,706.17 L695.70,706.10 L696.90,706.01 L698.10,705.90 L699.30,705.80 L700.50,705.71 L701.70,705.65 L702.90,705.63 L704.10,705.66 L705.30,705.72 L706.50,705.82 L707.70,705.94 L708.90,706.06 L710.10,706.17 L711.30,706.26 L712.50,706.34 L713.70,706.39 L714.90,706.43 L716.10,706.45 L717.30,706.47 L718.50,706.47 L719.70,706.48 L720.90,706.48 L722.10,706.49 L723.30,706.49 L724.50,706.49 L725.70,706.49 L726.90,706.49 L728.10,706.49 L729.30,706.49 L730.50,706.49 L731.70,706.49 L732.90,706.49 L734.10,706.49 L735.30,706.50 L736.50,706.50 L737.70,706.50 L738.90,706.50 L740.10,706.50 L741.30,706.50 L742.50,706.50 L743.70,706.50 L744.90,706.50 L746.10,706.50 L747.30,706.50 L748.50,706.50 L749.70,706.50 L750.90,706.50 L752.10,706.50 L753.30,706.50 L754.50,706.50 L755.70,706.50 L756.90,706.50 L758.10,706.50 L759.30,706.50 L760.50,706.50 L761.70,706.50 L762.90,706.50 L764.10,706.50 L765.30,706.50 L766.50,706.50 L767.70,706.50 L768.90,706.50 L770.10,706.50 L771.30,706.50 L772.50,706.50 L773.70,706.50 L774.90,706.50 L776.10,706.50 L777.30,706.50 L778.50,706.50 L779.70,706.50 L780.90,706.50 L782.10,706.50 L783.30,706.50 L784.50,706.50 L785.70,706.50 L786.90,706.50 L788.10,706.50 L789.30,706.50 L790.50,706.50 L791.70,706.50 L792.90,706.50 L794.10,706.50 L795.30,706.50 L796.50,706.50 L797.70,706.50 L798.90,706.50 L800.10,706.50 L801.30,706.50 L802.50,706.50 L803.70,706.50 L804.90,706.50 L806.10,706.50 L807.30,706.50 L808.50,706.50 L809.70,706.50 L810.90,706.50 L811.00,706.50" fill="none" stroke="#231f20" stroke-width="2.3" stroke-linejoin="miter" stroke-miterlimit="10" stroke-linecap="butt"/>
<path d="M557.30,943.00 L557.60,943.00 L558.80,943.00 L560.00,943.00 L561.20,943.00 L562.40,943.00 L563.60,943.00 L564.80,943.00 L566.00,943.00 L567.20,943.00 L568.40,943.00 L569.60,943.00 L570.80,943.00 L572.00,943.00 L573.20,943.00 L574.40,943.00 L575.60,943.00 L576.80,943.00 L578.00,943.00 L579.20,943.00 L580.40,943.00 L581.60,943.00 L582.80,943.00 L584.00,943.00 L585.20,943.00 L586.40,943.00 L587.60,943.00 L588.80,943.00 L590.00,943.00 L591.20,943.00 L592.40,943.00 L593.60,943.00 L594.80,943.00 L596.00,943.00 L597.20,943.00 L598.40,943.00 L599.60,943.00 L600.80,943.00 L602.00,943.00 L603.20,943.00 L604.40,943.00 L605.60,943.00 L606.80,943.00 L608.00,943.00 L609.20,943.00 L610.40,943.00 L611.60,943.00 L612.80,943.00 L614.00,943.00 L615.20,943.00 L616.40,943.00 L617.60,943.00 L618.80,943.00 L620.00,943.00 L621.20,943.00 L622.40,943.00 L623.60,943.00 L624.80,943.00 L626.00,943.00 L627.20,943.00 L628.40,943.00 L629.60,942.99 L630.80,942.98 L632.00,942.97 L633.20,942.94 L634.40,942.89 L635.60,942.81 L636.80,942.67 L638.00,942.45 L639.20,942.09 L640.40,941.50 L641.60,940.53 L642.80,938.97 L644.00,936.45 L645.20,932.48 L646.40,926.42 L647.60,917.58 L648.80,905.40 L650.00,889.66 L651.20,870.82 L652.40,850.16 L653.60,829.83 L654.80,812.48 L656.00,800.75 L657.20,796.60 L658.40,800.57 L659.60,811.83 L660.80,828.63 L662.00,848.44 L663.20,868.41 L664.40,886.55 L665.60,901.60 L666.80,913.09 L668.00,921.19 L669.20,926.50 L670.40,929.80 L671.60,931.87 L672.80,933.52 L674.00,934.79 L675.20,935.68 L676.40,936.35 L677.60,936.91 L678.80,937.41 L680.00,937.88 L681.20,938.34 L682.40,938.79 L683.60,939.23 L684.80,939.67 L686.00,940.09 L687.20,940.47 L688.40,940.79 L689.60,940.97 L690.80,940.87 L692.00,940.24 L693.20,938.66 L694.40,935.20 L695.60,929.05 L696.80,919.37 L698.00,905.30 L699.20,886.60 L700.40,864.12 L701.60,840.10 L702.80,818.03 L704.00,801.82 L705.20,794.75 L706.40,797.42 L707.60,807.74 L708.80,824.02 L710.00,843.75 L711.20,864.28 L712.40,883.42 L713.60,899.71 L714.80,912.58 L716.00,922.11 L717.20,928.81 L718.40,933.35 L719.60,936.36 L720.80,938.34 L722.00,939.65 L723.20,940.53 L724.40,941.14 L725.60,941.56 L726.80,941.87 L728.00,942.08 L729.20,942.24 L730.40,942.36 L731.60,942.45 L732.80,942.52 L734.00,942.57 L735.20,942.62 L736.40,942.66 L737.60,942.69 L738.80,942.72 L740.00,942.75 L741.20,942.77 L742.40,942.80 L743.60,942.82 L744.80,942.83 L746.00,942.85 L747.20,942.86 L748.40,942.88 L749.60,942.89 L750.80,942.90 L752.00,942.91 L753.20,942.92 L754.40,942.92 L755.60,942.93 L756.80,942.94 L758.00,942.94 L759.20,942.95 L760.40,942.95 L761.60,942.96 L762.80,942.96 L764.00,942.97 L765.20,942.97 L766.40,942.97 L767.60,942.98 L768.80,942.98 L770.00,942.98 L771.20,942.98 L772.40,942.98 L773.60,942.98 L774.80,942.99 L776.00,942.99 L777.20,942.99 L778.40,942.99 L779.60,942.99 L780.80,942.99 L782.00,942.99 L783.20,942.99 L784.40,942.99 L785.60,942.99 L786.80,942.99 L788.00,943.00 L789.20,943.00 L790.40,943.00 L791.60,943.00 L792.80,943.00 L794.00,943.00 L795.20,943.00 L796.40,943.00 L797.60,943.00 L798.80,943.00 L800.00,943.00 L801.20,943.00 L802.40,943.00 L803.60,943.00 L804.80,943.00 L806.00,943.00 L807.20,943.00 L808.40,943.00 L809.60,943.00 L810.80,943.00 L811.00,943.00" fill="none" stroke="#231f20" stroke-width="2.3" stroke-linejoin="miter" stroke-miterlimit="10" stroke-linecap="butt"/>
<text x="1006.50" y="32.00" font-size="43.8" font-weight="bold">b</text>
<line x1="1185.30" y1="54.40" x2="1185.30" y2="426.60" stroke="#231f20" stroke-width="2.33"/>
<line x1="1174.00" y1="56.00" x2="1185.30" y2="56.00" stroke="#231f20" stroke-width="2.33"/>
<text x="1169.50" y="67.30" font-size="30.7" text-anchor="end">15</text>
<line x1="1174.00" y1="178.80" x2="1185.30" y2="178.80" stroke="#231f20" stroke-width="2.33"/>
<text x="1169.50" y="190.10" font-size="30.7" text-anchor="end">10</text>
<line x1="1174.00" y1="301.60" x2="1185.30" y2="301.60" stroke="#231f20" stroke-width="2.33"/>
<text x="1169.50" y="312.90" font-size="30.7" text-anchor="end">5</text>
<text x="1169.50" y="434.90" font-size="30.7" text-anchor="end">0</text>
<path d="M1228.40,423.60 V304.60 H1314.80 V423.60" fill="#fff" stroke="#231f20" stroke-width="2.33" stroke-linejoin="miter"/>
<path d="M1358.20,423.60 V188.30 H1444.40 V423.60" fill="#fff" stroke="#231f20" stroke-width="2.33" stroke-linejoin="miter"/>
<line x1="1174.00" y1="423.60" x2="1491.10" y2="423.60" stroke="#231f20" stroke-width="2.33"/>
<line x1="1271.50" y1="423.60" x2="1271.50" y2="435.00" stroke="#231f20" stroke-width="2.33"/>
<line x1="1400.90" y1="423.60" x2="1400.90" y2="435.00" stroke="#231f20" stroke-width="2.33"/>
<line x1="1271.50" y1="302.10" x2="1271.50" y2="306.30" stroke="#231f20" stroke-width="2.33"/>
<line x1="1249.10" y1="302.10" x2="1293.90" y2="302.10" stroke="#231f20" stroke-width="2.33"/>
<line x1="1249.10" y1="306.30" x2="1293.90" y2="306.30" stroke="#231f20" stroke-width="2.33"/>
<line x1="1401.40" y1="169.90" x2="1401.40" y2="207.00" stroke="#231f20" stroke-width="2.33"/>
<line x1="1379.00" y1="169.90" x2="1423.80" y2="169.90" stroke="#231f20" stroke-width="2.33"/>
<line x1="1379.00" y1="207.00" x2="1423.80" y2="207.00" stroke="#231f20" stroke-width="2.33"/>
<circle cx="1249.70" cy="301.50" r="7.45" fill="none" stroke="#231f20" stroke-width="2.33"/>
<circle cx="1271.50" cy="306.90" r="7.45" fill="none" stroke="#231f20" stroke-width="2.33"/>
<circle cx="1293.60" cy="304.50" r="7.45" fill="none" stroke="#231f20" stroke-width="2.33"/>
<circle cx="1401.30" cy="168.20" r="7.45" fill="none" stroke="#231f20" stroke-width="2.33"/>
<circle cx="1412.40" cy="193.10" r="7.45" fill="none" stroke="#231f20" stroke-width="2.33"/>
<circle cx="1390.40" cy="204.00" r="7.45" fill="none" stroke="#231f20" stroke-width="2.33"/>
<text x="1209.2" y="465" font-size="30.7">AsA-[C]<tspan font-size="22">n</tspan></text>
<text x="1213.6" y="501" font-size="30.7">in <tspan font-style="italic">ans-4</tspan></text>
<text x="1402.30" y="465.00" font-size="30.7" text-anchor="middle">PAs</text>
<text x="1407.20" y="501.00" font-size="30.7" text-anchor="middle">in WT</text>
<text transform="translate(1120.4,273) rotate(-90)" font-size="30.7">mDP</text>
<text x="1006.50" y="564.00" font-size="43.8" font-weight="bold">c</text>
<line x1="1189.80" y1="613.80" x2="1189.80" y2="992.80" stroke="#231f20" stroke-width="2.33"/>
<line x1="1179.10" y1="615.00" x2="1189.80" y2="615.00" stroke="#231f20" stroke-width="2.33"/>
<text x="1177.40" y="627.50" font-size="30.7" text-anchor="end">0.15</text>
<line x1="1179.10" y1="740.60" x2="1189.80" y2="740.60" stroke="#231f20" stroke-width="2.33"/>
<text x="1177.40" y="753.10" font-size="30.7" text-anchor="end">0.10</text>
<line x1="1179.10" y1="865.10" x2="1189.80" y2="865.10" stroke="#231f20" stroke-width="2.33"/>
<text x="1177.40" y="877.60" font-size="30.7" text-anchor="end">0.05</text>
<text x="1177.40" y="1002.40" font-size="30.7" text-anchor="end">0.00</text>
<path d="M1234.40,989.90 V662.60 H1322.90 V989.90" fill="#fff" stroke="#231f20" stroke-width="2.33" stroke-linejoin="miter"/>
<path d="M1234.40,989.90 V771.80 H1322.90 V989.90" fill="#b0b1b3" stroke="#231f20" stroke-width="2.33" stroke-linejoin="miter"/>
<path d="M1234.40,989.90 V802.80 H1322.90 V989.90" fill="#808184" stroke="#231f20" stroke-width="2.33" stroke-linejoin="miter"/>
<path d="M1368.00,989.90 V961.20 H1456.00 V989.90" fill="#808184" stroke="#231f20" stroke-width="2.33" stroke-linejoin="miter"/>
<line x1="1179.20" y1="989.90" x2="1503.70" y2="989.90" stroke="#231f20" stroke-width="2.33"/>
<line x1="1278.50" y1="989.90" x2="1278.50" y2="1000.70" stroke="#231f20" stroke-width="2.33"/>
<line x1="1411.75" y1="989.90" x2="1411.75" y2="1000.70" stroke="#231f20" stroke-width="2.33"/>
<line x1="1278.50" y1="649.00" x2="1278.50" y2="676.10" stroke="#231f20" stroke-width="2.33"/>
<line x1="1255.70" y1="649.00" x2="1301.30" y2="649.00" stroke="#231f20" stroke-width="2.33"/>
<line x1="1255.70" y1="676.10" x2="1301.30" y2="676.10" stroke="#231f20" stroke-width="2.33"/>
<line x1="1278.50" y1="763.70" x2="1278.50" y2="779.90" stroke="#231f20" stroke-width="2.33"/>
<line x1="1256.00" y1="763.70" x2="1301.00" y2="763.70" stroke="#231f20" stroke-width="2.33"/>
<line x1="1256.00" y1="779.90" x2="1301.00" y2="779.90" stroke="#231f20" stroke-width="2.33"/>
<line x1="1278.50" y1="799.00" x2="1278.50" y2="807.00" stroke="#231f20" stroke-width="2.33"/>
<line x1="1256.00" y1="799.00" x2="1301.00" y2="799.00" stroke="#231f20" stroke-width="2.33"/>
<line x1="1256.00" y1="807.00" x2="1301.00" y2="807.00" stroke="#231f20" stroke-width="2.33"/>
<line x1="1411.75" y1="961.30" x2="1411.75" y2="962.70" stroke="#231f20" stroke-width="2.33"/>
<line x1="1389.35" y1="961.30" x2="1434.15" y2="961.30" stroke="#231f20" stroke-width="2.33"/>
<line x1="1389.35" y1="962.70" x2="1434.15" y2="962.70" stroke="#231f20" stroke-width="2.33"/>
<circle cx="1278.45" cy="650.10" r="6.6" fill="none" stroke="#231f20" stroke-width="2.33"/>
<circle cx="1288.65" cy="660.00" r="6.6" fill="none" stroke="#231f20" stroke-width="2.33"/>
<circle cx="1268.30" cy="677.00" r="6.6" fill="none" stroke="#231f20" stroke-width="2.33"/>
<circle cx="1257.90" cy="762.40" r="6.6" fill="none" stroke="#231f20" stroke-width="2.33"/>
<circle cx="1278.30" cy="776.20" r="6.6" fill="none" stroke="#231f20" stroke-width="2.33"/>
<circle cx="1298.60" cy="775.80" r="6.6" fill="none" stroke="#231f20" stroke-width="2.33"/>
<circle cx="1257.90" cy="798.70" r="6.6" fill="none" stroke="#231f20" stroke-width="2.33"/>
<circle cx="1278.30" cy="807.20" r="6.6" fill="none" stroke="#231f20" stroke-width="2.33"/>
<circle cx="1298.60" cy="802.80" r="6.6" fill="none" stroke="#231f20" stroke-width="2.33"/>
<circle cx="1391.20" cy="960.60" r="6.6" fill="none" stroke="#231f20" stroke-width="2.33"/>
<circle cx="1411.75" cy="962.70" r="6.6" fill="none" stroke="#231f20" stroke-width="2.33"/>
<circle cx="1432.15" cy="961.90" r="6.6" fill="none" stroke="#231f20" stroke-width="2.33"/>
<text x="1276.30" y="1038.00" font-size="30.7" text-anchor="middle">AsA-C</text>
<text x="1413.00" y="1038.00" font-size="30.7" text-anchor="middle">Cys-C</text>
<text transform="translate(1052.4,910) rotate(-90)" font-size="30.7">Concentration</text>
<text transform="translate(1089,903.5) rotate(-90)" font-size="30.7">(µmol g<tspan font-size="17.5" dy="-9.6">-1</tspan><tspan dy="9.6">FW)</tspan></text>
<text x="1349.50" y="792.00" font-size="26.3"><tspan font-style="italic">P</tspan> = 0.0002</text>
<text x="1412.60" y="776.00" font-size="31.5" text-anchor="middle" word-spacing="2.2">* * *</text>
<path d="M1347.2,802.2 H1411.75 V939.5" fill="none" stroke="#808285" stroke-width="2.2"/>
<rect x="1541.4" y="613.8" width="36.5" height="18.1" fill="#fff" stroke="#231f20" stroke-width="2.33"/>
<text x="1537.90" y="665.00" font-size="26.35">Released from</text>
<text x="1537.90" y="697.00" font-size="26.35">insoluble fractions</text>
<rect x="1541.4" y="718.8" width="36.5" height="18.1" fill="#b0b1b3" stroke="#231f20" stroke-width="2.33"/>
<text x="1537.90" y="769.00" font-size="26.35">Released from</text>
<text x="1537.90" y="800.00" font-size="26.35">soluble polymers</text>
<rect x="1541.4" y="825.0" width="36.5" height="18.1" fill="#808184" stroke="#231f20" stroke-width="2.33"/>
<text x="1537.90" y="872.00" font-size="26.35">Free soluble</text>
<text x="1537.90" y="903.00" font-size="26.35">conjugates</text>
</svg>
</body>
</html>
